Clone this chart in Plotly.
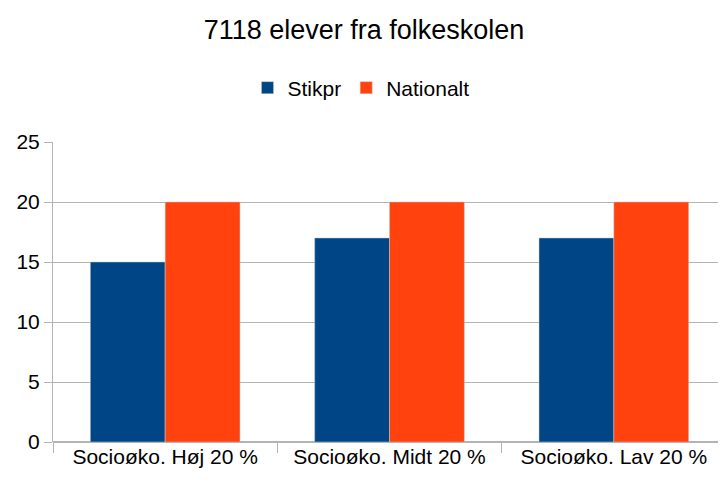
import plotly.graph_objects as go

categories = ["Socioøko. Høj 20 %", "Socioøko. Midt 20 %", "Socioøko. Lav 20 %"]
stikpr = [15, 17, 17]
nationalt = [20, 20, 20]
series_names = ["Stikpr", "Nationalt"]
y_ticks = [0, 5, 10, 15, 20, 25]

FONT = "Liberation Sans, Arial, sans-serif"

# the page body has an 8px default margin; size the figure to fill the rest
W, H = 718, 474

fig = go.Figure()
fig.add_trace(go.Bar(x=categories, y=stikpr, name=series_names[0],
                     marker=dict(color="#004586", line=dict(color="#c8c8c8", width=0.5))))
fig.add_trace(go.Bar(x=categories, y=nationalt, name=series_names[1],
                     marker=dict(color="#ff420e", line=dict(color="#c8c8c8", width=0.5))))

fig.update_layout(
    width=W, height=H,
    paper_bgcolor="white", plot_bgcolor="white",
    font=dict(family=FONT, color="black", size=21),
    title=dict(text="7118 elever fra folkeskolen", x=0.5 - 3 / W, xanchor="center",
               xref="container", y=1 - 22 / H, yanchor="middle", yref="container",
               font=dict(size=27, family=FONT)),
    legend=dict(orientation="h", x=0.5 - 6 / W, xanchor="center", xref="container",
                y=1 - 80 / H, yanchor="middle", yref="container",
                font=dict(size=21), itemwidth=30, tracegroupgap=0),
    margin=dict(l=45, r=0, t=134, b=40, autoexpand=False),
    barmode="group", bargap=0.333, bargroupgap=0,
    showlegend=True,
    hovermode=False,
)
fig.update_xaxes(showline=False, showgrid=False,
                 ticks="outside", tickson="boundaries", ticklen=10, tickcolor="#b3b3b3",
                 tickfont=dict(size=21))
fig.update_yaxes(range=[0, 25], tickvals=y_ticks, showgrid=True, gridcolor="#b3b3b3", gridwidth=1,
                 zeroline=True, zerolinecolor="#b3b3b3",
                 showline=True, linecolor="#b3b3b3", linewidth=1,
                 ticks="outside", ticklen=8, tickcolor="#b3b3b3",
                 tickfont=dict(size=21))

fig.write_html("out.html")
